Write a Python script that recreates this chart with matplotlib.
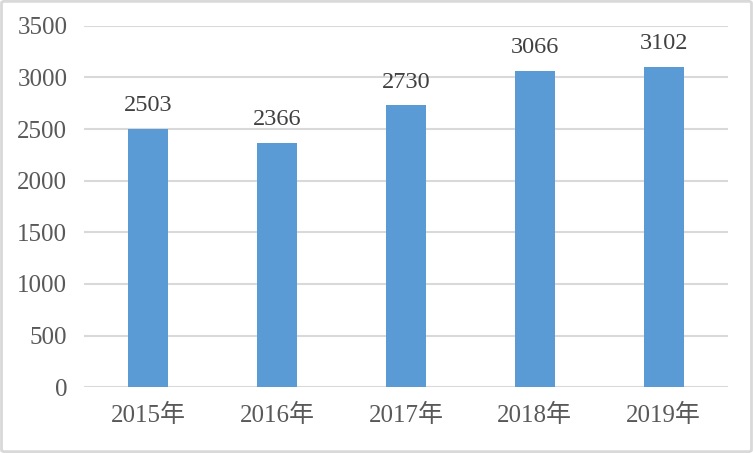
import matplotlib
matplotlib.use("Agg")
import matplotlib.pyplot as plt
from matplotlib.patches import FancyBboxPatch

categories = ["2015年", "2016年", "2017年", "2018年", "2019年"]
values = [2503, 2366, 2730, 3066, 3102]
yticks = [0, 500, 1000, 1500, 2000, 2500, 3000, 3500]

plt.rcParams['font.family'] = ['Liberation Serif', 'Noto Sans CJK SC']

fig = plt.figure(figsize=(7.53, 4.53), dpi=100)
ax = fig.add_axes([84/753, 1 - 387.3/453, 644/753, (387.3 - 25.7)/453])

x = list(range(len(categories)))
bars = ax.bar(x, values, width=0.31, color="#5B9BD5", zorder=3)
for xi, v in zip(x, values):
    ax.annotate(str(v), (xi, v), xytext=(0, 9), textcoords="offset points",
                ha="center", va="bottom", fontsize=17.5, color="#404040")

ax.set_xlim(-0.5, len(categories) - 0.5)
ax.set_ylim(0, 3500)
ax.set_yticks(yticks)
ax.set_xticks(x)
ax.set_xticklabels(categories)
ax.grid(axis="y", color="#D9D9D9", linewidth=1.5, zorder=0)
for s in ax.spines.values():
    s.set_visible(False)
ax.tick_params(axis="both", length=0, labelsize=18, labelcolor="#595959")
ax.tick_params(axis="y", pad=12)
ax.tick_params(axis="x", pad=12)

border = FancyBboxPatch((0.002, 0.003), 0.996, 0.994, boxstyle="round,pad=0,rounding_size=0.004",
                        transform=fig.transFigure, facecolor="none", edgecolor="#D9D9D9",
                        linewidth=2)
fig.patches.append(border)

fig.savefig("out.png", dpi=100)
